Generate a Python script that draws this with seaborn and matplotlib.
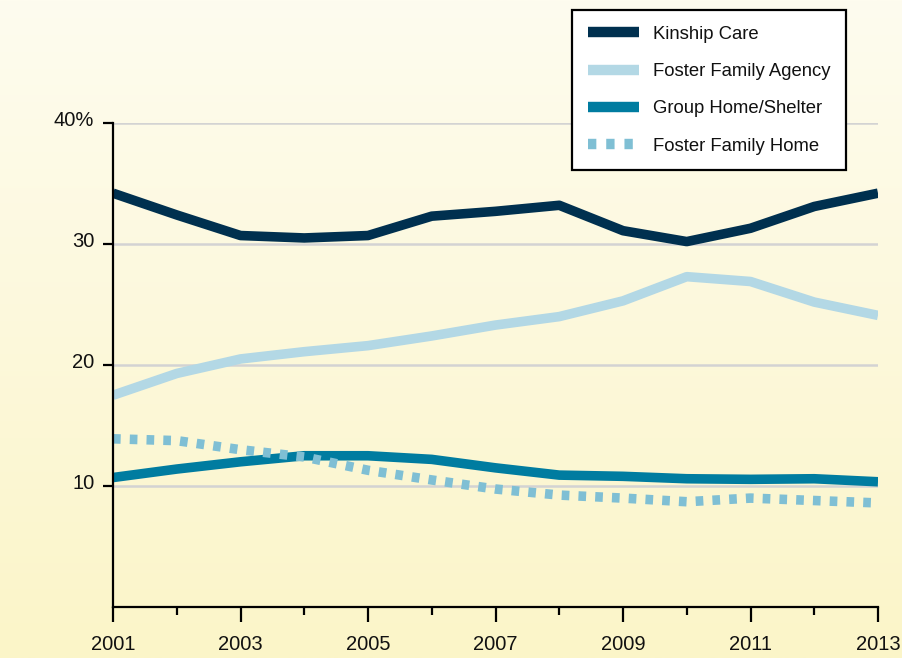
import numpy as np
import pandas as pd
import matplotlib
matplotlib.use("Agg")
import matplotlib.pyplot as plt
import matplotlib.transforms as mtransforms
from matplotlib.ticker import FixedLocator
import seaborn as sns

years = list(range(2001, 2014))
kinship_care = [34.2, 32.4, 30.7, 30.5, 30.7, 32.3, 32.7, 33.2, 31.1, 30.2, 31.3, 33.1, 34.2]
foster_family_agency = [17.5, 19.3, 20.5, 21.1, 21.6, 22.4, 23.3, 24.0, 25.3, 27.3, 26.9, 25.2, 24.1]
group_home_shelter = [10.7, 11.4, 12.0, 12.5, 12.5, 12.2, 11.5, 10.9, 10.8, 10.6, 10.55, 10.6, 10.35]
foster_family_home = [13.9, 13.75, 13.0, 12.4, 11.3, 10.5, 9.75, 9.25, 9.0, 8.7, 9.0, 8.8, 8.6]

series_names = ["Kinship Care", "Foster Family Agency", "Group Home/Shelter", "Foster Family Home"]
series_values = [kinship_care, foster_family_agency, group_home_shelter, foster_family_home]
colors = ["#00304f", "#b3d8e5", "#007ca0", "#7fbfd4"]

y_ticks = [10, 20, 30, 40]
y_tick_labels = ["10", "20", "30", "40%"]
x_major = [2001, 2003, 2005, 2007, 2009, 2011, 2013]
x_labels = ["2001", "2003", "2005", "2007", "2009", "2011", "2013"]

df = pd.DataFrame(
    [(y, v, n) for n, vals in zip(series_names, series_values) for y, v in zip(years, vals)],
    columns=["year", "value", "series"],
)

sns.set_theme(style="white")
plt.rcParams["font.family"] = ["Liberation Sans", "DejaVu Sans"]

fig = plt.figure(figsize=(9.02, 6.58), dpi=100)

# gradient background
bg = fig.add_axes([0, 0, 1, 1], zorder=-10)
top = np.array([254, 252, 239]) / 255
bot = np.array([251, 245, 200]) / 255
t = np.linspace(0, 1, 256)[:, None]
grad = (top[None, :] * (1 - t) + bot[None, :] * t)[:, None, :]
bg.imshow(grad, aspect="auto", extent=[0, 1, 0, 1])
bg.axis("off")

ax = fig.add_axes([113 / 902, 1 - 607 / 658, (878 - 113) / 902, (607 - 123) / 658])
ax.set_facecolor("none")

palette = dict(zip(series_names, colors))
dashes = {n: "" for n in series_names}
dashes["Foster Family Home"] = (0.8, 0.95)

sns.lineplot(
    data=df, x="year", y="value", hue="series", style="series",
    palette=palette, dashes=dashes, hue_order=series_names, style_order=series_names,
    linewidth=6.9, ax=ax, legend=True, solid_capstyle="butt", dash_capstyle="butt",
    solid_joinstyle="round", zorder=3,
)

ax.set_xlim(2001, 2013)
ax.set_ylim(0, 40)
ax.set_xlabel("")
ax.set_ylabel("")

for yv in y_ticks:
    ax.axhline(yv, color="#d3d3d3", lw=1.8, zorder=1)

for s in ["top", "right"]:
    ax.spines[s].set_visible(False)
for s in ["left", "bottom"]:
    ax.spines[s].set_color("black")
    ax.spines[s].set_linewidth(1.6)
    ax.spines[s].set_zorder(4)

ax.set_yticks(y_ticks)
ax.set_yticklabels(y_tick_labels)
ax.set_xticks(x_major)
ax.set_xticklabels(x_labels)
ax.xaxis.set_minor_locator(FixedLocator([2002, 2004, 2006, 2008, 2010, 2012]))
ax.tick_params(axis="y", which="major", direction="out", length=7.5, width=1.6,
               color="black", labelsize=14.5, pad=6, left=True, labelcolor="#111111")
ax.tick_params(axis="x", which="major", direction="out", length=10.5, width=1.6,
               color="black", labelsize=14.5, pad=10, bottom=True, labelcolor="#111111")
ax.tick_params(axis="x", which="minor", direction="out", length=5.5, width=1.6,
               color="black", bottom=True)

offset = mtransforms.ScaledTranslation(0, 3.5 / 72, fig.dpi_scale_trans)
for lab in ax.get_yticklabels():
    lab.set_transform(lab.get_transform() + offset)

handles, labels = ax.get_legend_handles_labels()
ax.get_legend().remove()
leg = fig.legend(
    handles, labels, loc="upper left", bbox_to_anchor=(572 / 902, 1 - 10 / 658),
    bbox_transform=fig.transFigure, frameon=True, fancybox=False, fontsize=13.3,
    handlelength=2.8, handletextpad=0.75, labelspacing=1.1, borderpad=0.85,
    borderaxespad=0,
)
leg.get_frame().set_edgecolor("black")
leg.get_frame().set_linewidth(1.6)
leg.get_frame().set_facecolor("white")
leg.get_frame().set_alpha(1)
for h in leg.get_lines():
    h.set_linewidth(7.5)
for txt in leg.get_texts():
    txt.set_color("#111111")

fig.savefig("out.png", dpi=100)
